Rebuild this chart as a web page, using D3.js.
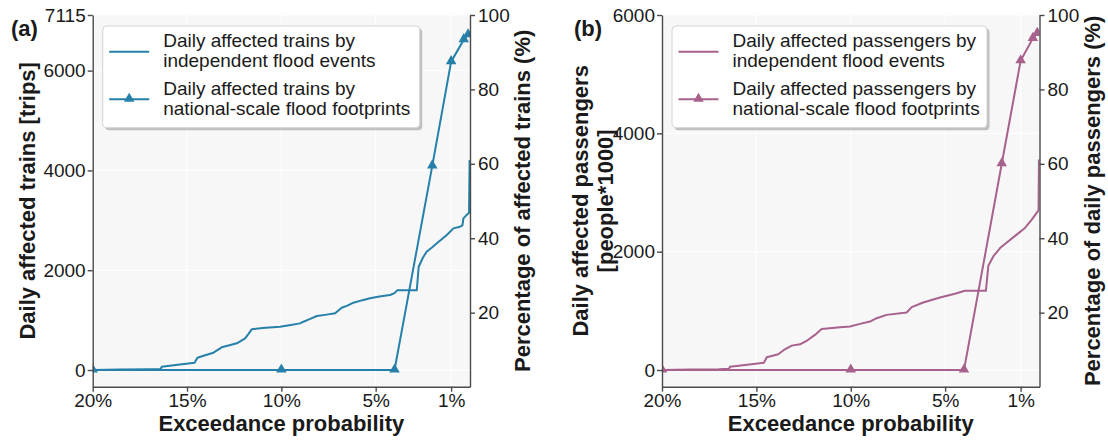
<!DOCTYPE html>
<html lang="en">
<head>
<meta charset="UTF-8" />
<title>Exceedance curves</title>
<style>
  body { margin: 0; background: #fff; }
  text { font-family: "Liberation Sans", Arial, sans-serif; fill: #1a1a1a; }
  .tick text { font-size: 19px; }
  .tick line, .domain { stroke: #4a4a4a; stroke-width: 1.4px; }
  .lab { font-size: 22px; font-weight: bold; }
  .leg { font-size: 19px; }
</style>
</head>
<body>
<div id="wrapper"></div>
<script src="https://d3js.org/d3.v7.min.js"></script>
<script>
// exceedance probability (%) and values
const trainsProb = [20, 18.5, 17.0, 16.4, 16.34, 15.6, 14.6, 14.45, 14.0, 13.6, 13.16, 12.7, 12.36, 11.92, 11.75, 11.57, 11.0,
  10.07, 9.5, 9.01, 8.83, 8.5, 8.12, 7.6, 7.15, 6.8, 6.5, 6.18, 5.7, 5.3, 4.8, 4.24, 4.0, 3.85, 2.82,
  2.72, 2.5, 2.3, 2.0, 1.76, 1.5, 1.23, 0.88, 0.53, 0.4, 0.35, 0.2, 0.05, 0.02];
const trainsVal = [0, 8, 15, 22, 66, 100, 146, 247, 300, 347, 455, 500, 535, 635, 720, 815, 840,
  868, 902, 935, 968, 1020, 1082, 1110, 1136, 1249, 1290, 1349, 1400, 1437, 1475, 1503, 1540, 1600, 1600,
  2070, 2250, 2371, 2460, 2539, 2620, 2705, 2839, 2872, 2900, 3040, 3100, 3150, 4208];
const trainsFootProb = [20, 10, 4, 2, 1, 0.33, 0.1];
const trainsFootVal = [0, 0, 0, 4090, 6180, 6620, 6720];

const paxProb = [20, 18.5, 17.0, 16.45, 16.4, 15.6, 14.6, 14.45, 13.84, 13.49, 13.13, 12.69, 12.34, 11.9, 11.54,
  10.57, 10.04, 9.51, 8.98, 8.63, 8.1, 7.04, 6.77, 6.16, 5.27, 4.48, 3.95, 2.84,
  2.71, 2.45, 2.09, 1.65, 1.21, 0.77, 0.41, 0.15, 0.05, 0.03];
const paxVal = [0, 8, 15, 22, 56, 85, 124, 215, 266, 350, 412, 435, 491, 593, 695,
  723, 734, 780, 819, 876, 932, 971, 1062, 1141, 1226, 1288, 1339, 1339,
  1763, 1920, 2062, 2175, 2288, 2401, 2542, 2656, 2700, 3559];
const paxFootProb = [20, 10, 4, 2, 1, 0.35, 0.12];
const paxFootVal = [0, 0, 0, 3486, 5226, 5605, 5690];

const xTicks = [20, 15, 10, 5, 1];
const pctTicks = [20, 40, 60, 80, 100];

const panels = [
  {
    tag: "(a)", tagX: 11, color: "#2680a9", left: 92.7, right: 470,
    yMax: 7115, yTicks: [0, 2000, 4000, 6000, 7115],
    prob: trainsProb, val: trainsVal, fProb: trainsFootProb, fVal: trainsFootVal,
    yLabel: ["Daily affected trains [trips]"],
    rLabel: "Percentage of affected trains (%)",
    legend: [["Daily affected trains by", "independent flood events"],
             ["Daily affected trains by", "national-scale flood footprints"]],
    legW: 317
  },
  {
    tag: "(b)", tagX: 574, color: "#a7618d", left: 662, right: 1039.5,
    yMax: 6000, yTicks: [0, 2000, 4000, 6000],
    prob: paxProb, val: paxVal, fProb: paxFootProb, fVal: paxFootVal,
    yLabel: ["Daily affected passengers", "[people*1000]"],
    rLabel: "Percentage of daily passengers (%)",
    legend: [["Daily affected passengers by", "independent flood events"],
             ["Daily affected passengers by", "national-scale flood footprints"]],
    legW: 315
  }
];

const W = 1108, H = 441, plotTop = 15, plotBottom = 386.7;

const svg = d3.select("#wrapper").append("svg")
  .attr("width", W).attr("height", H);

panels.forEach((p, i) => {
  const g = svg.append("g");
  const x = d3.scaleLinear().domain([20, 0]).range([p.left, p.right]);
  const y = d3.scaleLinear().domain([-0.047 * p.yMax, p.yMax]).range([plotBottom, plotTop]);
  const yr = d3.scaleLinear().domain([0.1, 100]).range([plotBottom, plotTop]);

  g.append("rect")
    .attr("x", p.left).attr("y", plotTop)
    .attr("width", p.right - p.left).attr("height", plotBottom - plotTop)
    .attr("fill", "#f7f7f7");

  // faint grid
  g.selectAll(".gx").data(xTicks).join("line")
    .attr("x1", d => x(d)).attr("x2", d => x(d))
    .attr("y1", plotTop).attr("y2", plotBottom)
    .attr("stroke", "#ffffff").attr("stroke-width", 1);
  g.selectAll(".gy").data(p.yTicks).join("line")
    .attr("x1", p.left).attr("x2", p.right)
    .attr("y1", d => y(d)).attr("y2", d => y(d))
    .attr("stroke", "#ffffff").attr("stroke-width", 1);

  const clipId = "clip" + i;
  svg.append("clipPath").attr("id", clipId).append("rect")
    .attr("x", p.left).attr("y", plotTop)
    .attr("width", p.right - p.left).attr("height", plotBottom - plotTop);

  const plot = g.append("g").attr("clip-path", `url(#${clipId})`);

  const steps = p.prob.map((d, k) => [d, p.val[k]]);
  plot.append("path")
    .datum(steps)
    .attr("fill", "none")
    .attr("stroke", p.color)
    .attr("stroke-width", 2)
    .attr("stroke-linejoin", "round")
    .attr("d", d3.line().x(d => x(d[0])).y(d => y(d[1])));

  const foot = p.fProb.map((d, k) => [d, p.fVal[k]]);
  plot.append("path")
    .datum(foot)
    .attr("fill", "none")
    .attr("stroke", p.color)
    .attr("stroke-width", 2)
    .attr("d", d3.line().x(d => x(d[0])).y(d => y(d[1])));

  const tri = d3.symbol().type(d3.symbolTriangle).size(48);
  plot.selectAll(".mk").data(foot).join("path")
    .attr("transform", d => `translate(${x(d[0])},${y(d[1]) - 0.5})`)
    .attr("d", tri)
    .attr("fill", p.color);

  // axes
  g.append("g")
    .attr("transform", `translate(0,${plotBottom})`)
    .call(d3.axisBottom(x).tickValues(xTicks).tickFormat(d => d + "%")
      .tickSize(5).tickSizeOuter(0).tickPadding(2));
  g.append("g")
    .attr("transform", `translate(${p.left},0)`)
    .call(d3.axisLeft(y).tickValues(p.yTicks).tickFormat(d3.format("d"))
      .tickSize(5).tickSizeOuter(0).tickPadding(2));
  g.append("g")
    .attr("transform", `translate(${p.right},0)`)
    .call(d3.axisRight(yr).tickValues(pctTicks).tickFormat(d3.format("d"))
      .tickSize(5).tickSizeOuter(0).tickPadding(3));

  const cx = (p.left + p.right) / 2, cy = (plotTop + plotBottom) / 2;
  g.append("text").attr("class", "lab")
    .attr("x", cx).attr("y", 431).attr("text-anchor", "middle")
    .text("Exceedance probability");

  if (p.yLabel.length === 1) {
    g.append("text").attr("class", "lab")
      .attr("transform", `translate(${p.left - 58},${cy}) rotate(-90)`)
      .attr("text-anchor", "middle")
      .text(p.yLabel[0]);
  } else {
    p.yLabel.forEach((t, k) => {
      g.append("text").attr("class", "lab")
        .attr("transform", `translate(${p.left - 74 + k * 25},${cy}) rotate(-90)`)
        .attr("text-anchor", "middle")
        .text(t);
    });
  }
  g.append("text").attr("class", "lab")
    .attr("transform", `translate(${p.right + 60},${cy}) rotate(-90)`)
    .attr("text-anchor", "middle")
    .text(p.rLabel);

  g.append("text").attr("class", "lab")
    .attr("x", p.tagX).attr("y", 36)
    .text(p.tag);

  // legend
  const lx = p.left + 10, ly = 26, lh = 101.7;
  g.append("rect")
    .attr("x", lx + 2.5).attr("y", ly + 2.5).attr("rx", 4)
    .attr("width", p.legW).attr("height", lh)
    .attr("fill", "#9a9a9a").attr("opacity", 0.6);
  g.append("rect")
    .attr("x", lx).attr("y", ly).attr("rx", 4)
    .attr("width", p.legW).attr("height", lh)
    .attr("fill", "#ffffff").attr("stroke", "#d4d4d4");
  [51.7, 99.3].forEach((c, k) => {
    g.append("line")
      .attr("x1", lx + 6.5).attr("x2", lx + 46.5)
      .attr("y1", c).attr("y2", c)
      .attr("stroke", p.color).attr("stroke-width", 2);
    if (k === 1) {
      g.append("path")
        .attr("transform", `translate(${lx + 26.5},${c - 0.5})`)
        .attr("d", tri).attr("fill", p.color);
    }
    p.legend[k].forEach((t, j) => {
      g.append("text").attr("class", "leg")
        .attr("x", lx + 60.5).attr("y", c - 4.5 + j * 20)
        .text(t);
    });
  });
});
</script>
</body>
</html>
